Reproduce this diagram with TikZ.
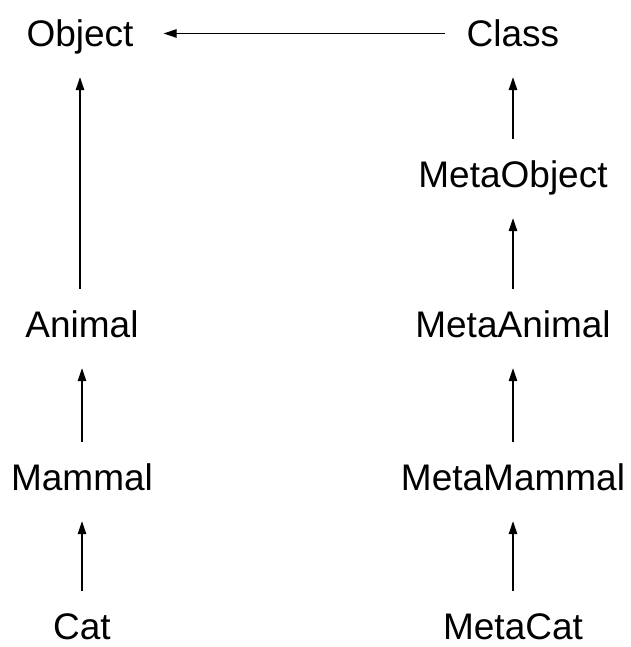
\documentclass[tikz,border=0pt]{standalone}
\usepackage{fontspec}
\setmainfont{Liberation Sans}
\usepackage{tikz}
\usetikzlibrary{arrows.meta}

\begin{document}
\begin{tikzpicture}[
        x=1pt, y=1pt,
        cls/.style={
          inner sep=0pt,
          anchor=base,
          text height=27pt,
          text depth=0pt,
          font=\fontsize{37}{44}\selectfont
        },
        isa/.style={
          ->,
          line width=1.3pt,
          shorten >=30pt,
          shorten <=22pt
        },
        >={Triangle[length=13pt,width=8.5pt]}
      ]
        \useasboundingbox (0,0) rectangle (630,647);

        \node[cls] (object) at (80,600) {Object};
        \node[cls] (animal) at (82,309) {Animal};
        \node[cls] (mammal) at (82,156) {Mammal};
        \node[cls] (cat) at (82,7) {Cat};

        \node[cls] (class) at (513,600) {Class};
        \node[cls] (metaobject) at (513,459) {MetaObject};
        \node[cls] (metaanimal) at (513,309) {MetaAnimal};
        \node[cls] (metamammal) at (513,156) {MetaMammal};
        \node[cls] (metacat) at (513,7) {MetaCat};

        \draw[isa] (class) -- (object);
        \draw[isa] (animal.north -| object) -- (object);
        \draw[isa] (mammal) -- (animal);
        \draw[isa] (cat) -- (mammal);

        \draw[isa] (metaobject) -- (class);
        \draw[isa] (metaanimal) -- (metaobject);
        \draw[isa] (metamammal) -- (metaanimal);
        \draw[isa] (metacat) -- (metamammal);

      \end{tikzpicture}
\end{document}
